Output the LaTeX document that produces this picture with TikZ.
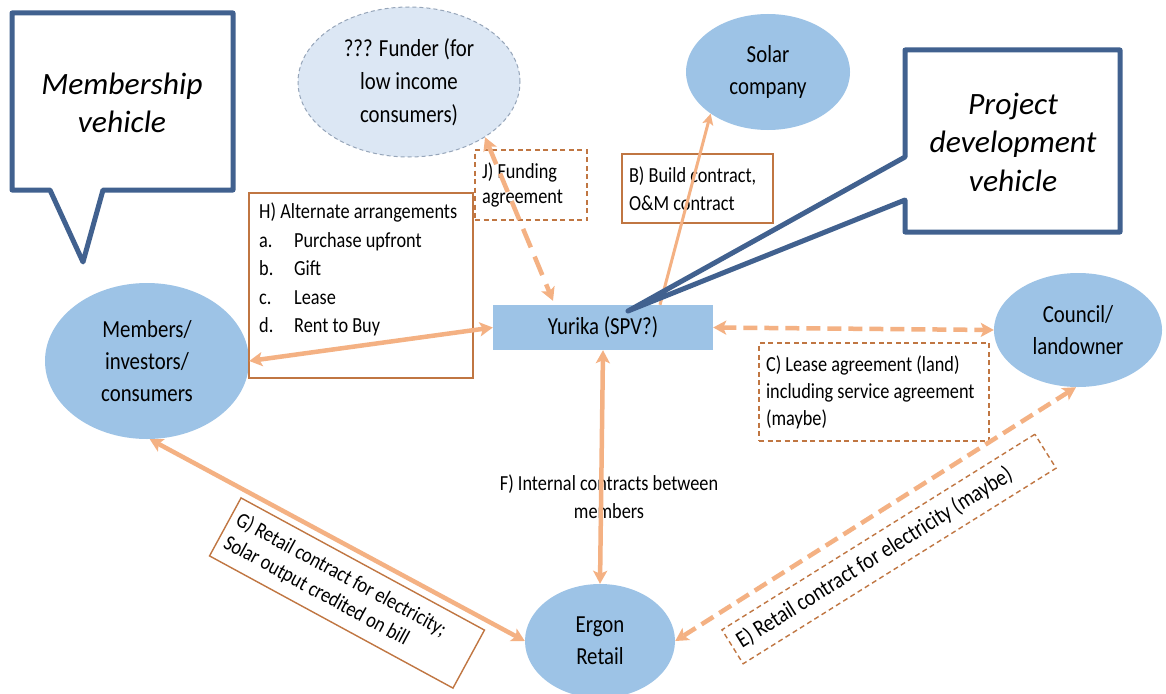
\documentclass[tikz,border=0pt]{standalone}
\usepackage{fontspec}
\setmainfont{Carlito}[FakeStretch=0.85]
\newfontfamily\callfont{Carlito}[FakeStretch=1.02]
\usetikzlibrary{arrows.meta,shapes.geometric}
\definecolor{nodeblue}{RGB}{157,195,230}
\definecolor{funderfill}{RGB}{220,231,244}
\definecolor{funderline}{RGB}{150,165,185}
\definecolor{arrorange}{RGB}{244,177,131}
\definecolor{boxbrown}{RGB}{192,118,66}
\definecolor{callblue}{RGB}{65,97,143}
\newcommand\bigtxt{\fontsize{24.5}{32}\selectfont}
\newcommand\smtxt{\fontsize{21.5}{27}\selectfont}
\newcommand\calltxt{\callfont\itshape\fontsize{31}{38.5}\selectfont}
\tikzset{
  ell/.style={ellipse, fill=nodeblue, draw=none, inner sep=0pt, align=center, font=\bigtxt},
  lbox/.style={rectangle, draw=boxbrown, line width=1.4pt, inner xsep=7pt, inner ysep=0pt, align=flush left, font=\smtxt},
  dbox/.style={lbox, dash pattern=on 5pt off 3.5pt},
  con/.style={draw=arrorange, line width=4.5pt, {Stealth[length=13pt,width=14pt,inset=3pt]}-{Stealth[length=13pt,width=14pt,inset=3pt]}},
  dcon/.style={con, dash pattern=on 14pt off 7pt},
  callout/.style={draw=callblue, line width=5pt, line join=round}
}
\begin{document}
\begin{tikzpicture}[x=1pt,y=-1pt]
\fill[white] (0,0) rectangle (1166,693);
\useasboundingbox (0,0) rectangle (1166,693);

% main nodes
\node[ell, fill=funderfill, draw=funderline, line width=1pt, dash pattern=on 4pt off 3pt,
      minimum width=222pt, minimum height=150pt, font=\fontsize{24.5}{33}\selectfont] (funder) at (409,82) {??? Funder (for\\low income\\consumers)};
\node[ell, minimum width=164pt, minimum height=116pt] (solar) at (768,72) {Solar\\company};
\node[ell, minimum width=204pt, minimum height=156pt] (members) at (147,361) {Members/\\investors/\\consumers};
\node[ell, minimum width=168pt, minimum height=114pt] (council) at (1078,330) {Council/\\landowner};
\node[ell, minimum width=150pt, minimum height=114pt] (ergon) at (600,641) {Ergon\\Retail};
\node[rectangle, fill=nodeblue, inner sep=0pt, minimum width=220pt, minimum height=45pt, font=\bigtxt] (yurika) at (603,327.5) {Yurika (SPV?)};

% label boxes
\node[dbox, text width=98pt, minimum height=70pt, font=\fontsize{21.5}{25.5}\selectfont] (jbox) at (531,185) {J) Funding\\agreement};
\node[lbox, text width=137pt, minimum height=69pt, font=\fontsize{21.5}{28}\selectfont] (bbox) at (697.5,188.5) {B) Build contract,\\O\&M contract};
\node[lbox, minimum width=224pt, minimum height=185pt] (hbox) at (361,285.5) {};
\node[anchor=north west, inner sep=0pt, align=flush left, font=\fontsize{21.5}{28.5}\selectfont] (htext) at (259,203)
  {H) Alternate arrangements\\\makebox[35pt][l]{a.}Purchase upfront\\\makebox[35pt][l]{b.}Gift\\\makebox[35pt][l]{c.}Lease\\\makebox[35pt][l]{d.}Rent to Buy};
\node[dbox, text width=216pt, minimum height=98pt] (cbox) at (874,392) {C) Lease agreement (land)\\including service agreement\\(maybe)};
\node[align=center, inner sep=0pt, font=\fontsize{21.5}{28}\selectfont] (flabel) at (609,497) {F) Internal contracts between\\members};
\node[lbox, rotate=-28.5, text width=263pt, minimum height=66pt, font=\fontsize{21.5}{26}\selectfont] (gbox) at (347,593) {G) Retail contract for electricity;\\Solar output credited on bill};
\node[dbox, rotate=32, text width=355pt, minimum height=40pt, font=\fontsize{23.5}{27}\selectfont] (ebox) at (889,549) {E) Retail contract for electricity (maybe)};

% connectors
\draw[con, dash pattern=on 20pt off 10pt] (funder.-36) -- ([xshift=-50pt,yshift=4pt]yurika.north);
\draw[draw=arrorange, line width=3pt, -{Stealth[length=11pt,width=11pt,inset=2.5pt]}] ([xshift=57pt]yurika.north) -- (solar.216);
\draw[con] (yurika.west) -- (members.east);
\draw[dcon] (yurika.east) -- (council.west);
\draw[con] (yurika.south) -- (ergon.north);
\draw[con] (members.-88) -- (ergon.west);
\draw[dcon] (council.-92) -- (ergon.east);

% callouts
\draw[callout] (12,13) -- (233,13) -- (233,190) -- (103,190) -- (83,262) -- (50,190) -- (12,190) -- cycle;
\node[align=center, inner sep=0pt, font=\calltxt] (mtext) at (122,103) {Membership\\vehicle};
\draw[callout] (905,50) -- (1120,50) -- (1120,232) -- (905,232) -- (905,200) -- (628,311) -- (905,157) -- cycle;
\node[align=center, inner sep=0pt, font=\calltxt] (ptext) at (1013,142) {Project\\development\\vehicle};
\end{tikzpicture}
\end{document}
